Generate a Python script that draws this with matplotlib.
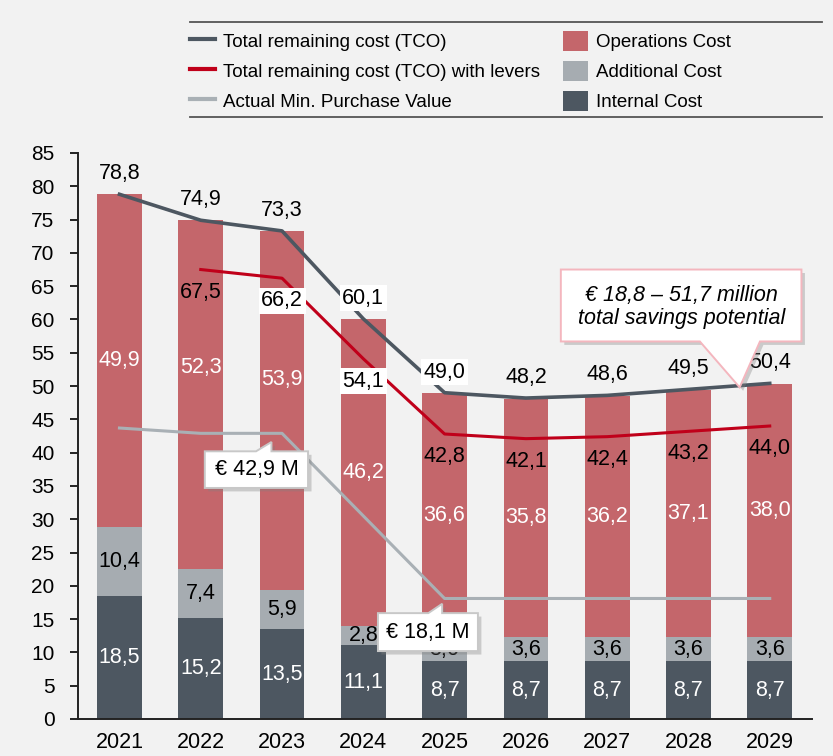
import numpy as np
import matplotlib.pyplot as plt
import matplotlib.patheffects as pe
from matplotlib.patches import Polygon, Patch
from matplotlib.lines import Line2D

plt.rcParams['font.family'] = ['Liberation Sans', 'DejaVu Sans']

years = ['2021', '2022', '2023', '2024', '2025', '2026', '2027', '2028', '2029']
internal = [18.5, 15.2, 13.5, 11.1, 8.7, 8.7, 8.7, 8.7, 8.7]
additional = [10.4, 7.4, 5.9, 2.8, 3.6, 3.6, 3.6, 3.6, 3.6]
operations = [49.9, 52.3, 53.9, 46.2, 36.6, 35.8, 36.2, 37.1, 38.0]
tco = [78.8, 74.9, 73.3, 60.1, 49.0, 48.2, 48.6, 49.5, 50.4]
tco_levers = [np.nan, 67.5, 66.2, 54.1, 42.8, 42.1, 42.4, 43.2, 44.0]
min_purchase = [43.7, 42.9, 42.9, 30.5, 18.1, 18.1, 18.1, 18.1, 18.1]

c_ops = '#c4666b'
c_add = '#a6acb1'
c_int = '#4d5761'
c_tco = '#4d5761'
c_lev = '#c0001a'
c_min = '#a9b0b5'
bg = '#f2f2f2'


def fmt(v):
    return f'{v:.1f}'.replace('.', ',')


fig = plt.figure(figsize=(8.33, 7.56), dpi=100, facecolor=bg)
ax = fig.add_axes([78 / 833, 37 / 756, (812 - 78) / 833, (719 - 153) / 756])
ax.set_facecolor(bg)

x = np.arange(len(years))
w = 0.55
bottom2 = np.add(internal, additional)
ax.bar(x, internal, w, color=c_int, zorder=2)
ax.bar(x, additional, w, bottom=internal, color=c_add, zorder=2)
ax.bar(x, operations, w, bottom=bottom2, color=c_ops, zorder=2)

ax.plot(x, min_purchase, color=c_min, lw=2.2, zorder=3)
ax.plot(x, tco_levers, color=c_lev, lw=2.2, zorder=4)
ax.plot(x, tco, color=c_tco, lw=2.6, zorder=4)

fs = 15.5
box = dict(boxstyle='square,pad=0.12', fc='white', ec='none')

# segment labels
ops_y_override = {1: 52.8, 2: 51.0}
for i in range(len(years)):
    ax.text(x[i], internal[i] / 2, fmt(internal[i]), color='white', fontsize=fs,
            ha='center', va='center', zorder=5)
    ax.text(x[i], internal[i] + additional[i] / 2, fmt(additional[i]), color='black',
            fontsize=fs, ha='center', va='center', zorder=5)
    oy = ops_y_override.get(i, bottom2[i] + operations[i] / 2)
    ax.text(x[i], oy, fmt(operations[i]), color='white', fontsize=fs,
            ha='center', va='center', zorder=5)

# totals
for i in range(len(years)):
    ax.text(x[i], tco[i] + 3.1, fmt(tco[i]), fontsize=fs, ha='center', va='center',
            zorder=6, bbox=box if i in (3, 4) else None)

# with levers
for i in range(1, len(years)):
    ax.text(x[i], tco_levers[i] - 3.4, fmt(tco_levers[i]), fontsize=fs, ha='center',
            va='center', zorder=6, bbox=box if i in (2, 3) else None)

# callouts
shadow = [pe.SimplePatchShadow(offset=(2.5, -2.5), shadow_rgbFace='#808080', alpha=0.35),
          pe.Normal()]


def callout(verts, text, tx, ty, ec, **kw):
    poly = Polygon(verts, closed=True, fc='white', ec=ec, lw=1.4, zorder=7,
                   path_effects=shadow)
    ax.add_patch(poly)
    ax.text(tx, ty, text, ha='center', va='center', zorder=8, **kw)


callout([(1.05, 34.7), (2.32, 34.7), (2.32, 40.2), (1.87, 40.2), (1.87, 41.6),
         (1.68, 40.2), (1.05, 40.2)],
        '€ 42,9 M', 1.685, 37.4, '#c8c8c8', fontsize=fs)
callout([(3.18, 10.2), (4.41, 10.2), (4.41, 15.9), (3.97, 15.9), (3.97, 17.3),
         (3.80, 15.9), (3.18, 15.9)],
        '€ 18,1 M', 3.795, 13.05, '#c8c8c8', fontsize=fs)
callout([(5.43, 56.7), (7.14, 56.7), (7.63, 49.8), (7.88, 56.7), (8.39, 56.7),
         (8.39, 67.5), (5.43, 67.5)],
        '€ 18,8 – 51,7 million\ntotal savings potential', 6.91, 61.9, '#f4b6be',
        fontsize=fs, style='italic', linespacing=1.15)

ax.set_xlim(-0.51, 8.52)
ax.set_ylim(0, 85)
ax.set_yticks(range(0, 86, 5))
ax.set_xticks(x)
ax.set_xticklabels(years)
ax.tick_params(axis='x', length=0, labelsize=fs, pad=9)
ax.tick_params(axis='y', length=6, width=1.2, labelsize=15, pad=11)
for s in ['top', 'right']:
    ax.spines[s].set_visible(False)
for s in ['left', 'bottom']:
    ax.spines[s].set_linewidth(1.4)
    ax.spines[s].set_color('#222222')

# legend
handles = [Line2D([], [], color=c_tco, lw=3),
           Line2D([], [], color=c_lev, lw=3),
           Line2D([], [], color=c_min, lw=3),
           Patch(fc=c_ops), Patch(fc=c_add), Patch(fc=c_int)]
labels = ['Total remaining cost (TCO)', 'Total remaining cost (TCO) with levers',
          'Actual Min. Purchase Value', 'Operations Cost', 'Additional Cost',
          'Internal Cost']
fig.legend(handles, labels, ncol=2, loc='upper left', bbox_to_anchor=(190 / 833, 1 - 31 / 756),
           frameon=False, fontsize=13.5, handlelength=1.35, handleheight=1.25,
           handletextpad=0.43, columnspacing=1.2, labelspacing=0.52,
           borderaxespad=0, borderpad=0)
for yy in (22, 117):
    fig.add_artist(Line2D([190 / 833, 822 / 833], [1 - yy / 756] * 2, color='#555555', lw=1.3))

fig.savefig('out.png', dpi=100, facecolor=bg)
